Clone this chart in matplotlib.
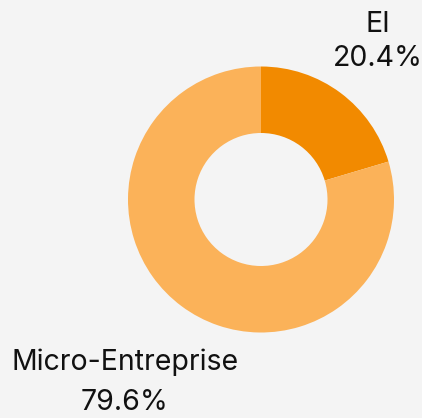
import matplotlib.pyplot as plt

LABELS = ["EI", "Micro-Entreprise"]
SHARES = [20.4, 79.6]
COLORS = ["#f28a00", "#fbb259"]

BG = "#f4f4f4"
W, H = 422, 418

plt.rcParams["font.family"] = ["Inter", "DejaVu Sans"]

fig = plt.figure(figsize=(W / 100, H / 100), dpi=100, facecolor=BG)
ax = fig.add_axes([0, 0, 1, 1])
ax.set_facecolor(BG)

cx, cy, r = 261, H - 199.5, 133
ax.pie(SHARES, colors=COLORS, startangle=90, counterclock=False,
       center=(cx, cy), radius=r, frame=True,
       wedgeprops=dict(width=r * 0.5, linewidth=0))
ax.set_xlim(0, W)
ax.set_ylim(0, H)
ax.set_aspect("equal")
ax.axis("off")

# labels: name above, percentage below
pos = [(378, 24, 59), (125, 362, 402)]
for (lab, val), (x, y1, y2) in zip(zip(LABELS, SHARES), pos):
    ax.text(x, H - y1, lab, ha="center", va="center", fontsize=20.5, color="#111111")
    ax.text(x, H - y2, f"{val:.1f}%", ha="center", va="center", fontsize=20.5, color="#111111")

fig.savefig("out.png", dpi=100, facecolor=BG)
